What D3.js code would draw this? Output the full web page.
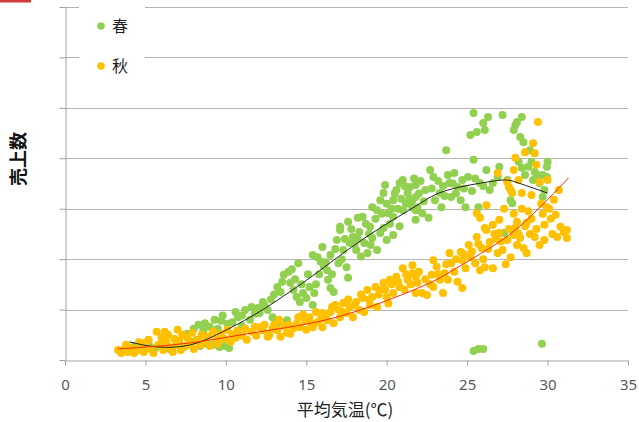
<!DOCTYPE html>
<meta charset="utf-8">
<style>
body { margin: 0; background: #fff; }
svg { display: block; font-family: "Noto Sans CJK JP", "Noto Sans", sans-serif; }
.grid line { stroke: #b4b4b4; stroke-width: 1; }
.axis path, .axis line { stroke: #a0a0a0; }
.axis text { fill: #595959; font-size: 15px; font-family: "Noto Sans", sans-serif; }
</style>
<svg width="639" height="422"></svg>
<script src="https://cdn.jsdelivr.net/npm/d3@7"></script>
<script>

// 春 (spring) points: [平均気温, 売上数]
var springPoints = [
  [4.3,28],[4.8,22],[5.2,32],[5.6,24],[6.0,30],[6.5,22],[7.0,34],[7.4,26],[7.9,36],[8.4,28],[8.8,32],[9.2,30],[9.6,26],[9.9,28],[10.2,24],
  [7.6,52],[8.0,62],[8.3,70],[8.6,58],[8.7,73],[9.0,66],[9.3,80],[9.5,62],[9.8,88],[10.1,72],[10.4,75],[10.75,85],[11.0,68],[11.2,99],[11.5,80],
  [11.8,92],[12.0,103],[12.1,93],[12.3,115],[12.6,99],[12.9,85],[13.2,73],[13.8,79],
  [13.2,145],[13.4,135],[13.6,169],[13.9,175],[14.0,153],[14.2,139],[14.4,125],[14.5,192],[14.6,115],[14.8,133],[15.0,123],[15.2,145],
  [15.4,109],[15.4,208],[15.5,133],[15.7,204],[16.0,224],[16.2,194],[16.3,178],[16.35,159],[16.5,143],[16.7,135],[16.5,208],[16.9,238],
  [17.0,192],[17.1,258],[17.3,218],[17.5,184],[17.6,163],[17.7,232],[17.9,244],[18.1,218],[18.3,254],[18.6,232],[18.8,212],[19.1,242],
  [19.4,218],[19.6,252],[20.0,238],[20.4,248],[14.3,160],[15.8,170],[16.1,185],[17.2,200],[18.0,230],[18.4,205],[19.0,228],[19.8,262],
  [20.2,270],[20.8,265],
  [17.1,264],[17.6,274],[18.2,282],[18.5,284],[18.96,264],[19.1,303],[19.4,297],[19.6,317],[19.8,331],[19.9,347],[20.1,291],[20.4,317],
  [20.6,337],[20.8,351],[21.0,357],[21.3,331],[21.45,343],[21.6,317],[21.6,303],[21.8,278],[20.4,284],[21.0,297],[20.9,320],[21.2,310],[20.3,300],
  [21.8,347],[21.8,323],[21.9,303],[22.2,291],[22.6,282],[22.4,337],[22.7,377],[22.9,363],[23.0,317],[23.3,331],[23.4,303],[23.7,416],
  [23.8,367],[23.9,351],[24.0,323],[24.2,371],[24.4,343],[24.6,317],[24.7,357],[24.9,303],[25.05,363],[25.2,446],[25.4,490],[25.4,397],
  [25.6,452],[25.7,303],[25.8,351],[26.0,470],[26.1,456],[26.2,377],[26.3,482],[26.4,337],[26.6,351],[26.9,363],[27.0,383],[27.2,486],
  [27.5,357],[27.7,317],[27.8,311],[27.9,456],[28.0,466],[28.1,472],[28.2,393],[28.4,482],[28.3,442],[28.4,381],[28.5,432],[28.6,367],
  [28.9,416],[28.8,383],[29.0,393],[29.1,357],[29.2,373],[29.4,367],[29.5,351],[29.7,367],[29.96,363],[30.0,393],[29.96,383],[29.8,337],
  [29.7,323],[21.8,297],[27.3,252],[22.1,355],[23.5,345],[24.3,330],[25.3,335],
  [13.0,130],[13.5,155],[14.1,180],[14.7,150],[15.1,170],[15.6,150],[15.9,195],[16.6,170],[16.8,220],[17.4,240],[17.8,260],[18.2,240],
  [18.7,270],[18.9,250],[19.3,280],[19.7,290],[20.0,310],[20.5,330],[20.7,300],[21.1,345],[21.4,320],[21.7,360],[22.0,330],[22.3,315],
  [22.8,340],[23.2,355],[23.6,325],[24.1,350],[24.8,340],[25.5,360],[26.0,345],[11.0,88],[11.6,105],[12.4,108],[10.6,95],[9.7,78],[12.8,120],
  [25.4,18],[25.7,22],[26.0,22],[29.65,32]
];

// 秋 (autumn) points
var autumnPoints = [
  [3.3,20],[3.5,14],[3.7,22],[3.9,16],[4.1,24],[4.3,14],[4.5,20],[4.7,28],[4.9,16],[5.0,34],[5.2,40],[5.3,22],[5.5,14],[5.7,56],[5.8,30],
  [6.0,44],[6.1,20],[6.3,36],[6.4,50],[6.5,26],[6.7,16],[6.8,42],[6.9,30],[7.1,38],[7.2,20],[7.3,50],[7.5,28],[7.6,44],[7.8,34],[7.9,54],
  [8.0,22],[8.2,40],[8.4,30],[8.5,50],[8.7,38],[8.9,46],[9.0,28],[9.2,56],[9.4,40],[9.5,32],[9.7,52],[9.9,42],[10.1,60],[10.3,36],[10.4,50],
  [10.6,44],[10.7,58],[11.0,48],[11.2,62],[11.3,40],[11.6,56],[11.8,66],[11.9,48],[6.2,56],[7.0,60],[4.6,35],[3.8,30],
  [12.1,65],[12.3,59],[12.6,46],[12.7,50],[13.2,59],[13.4,46],[13.8,54],[14.2,63],[14.5,85],[14.6,65],[14.9,79],[15.2,85],[15.4,65],
  [15.7,75],[16.0,93],[16.0,65],[16.3,79],[16.5,95],[16.7,73],[16.8,109],[17.1,85],[17.3,113],[17.5,93],[17.7,105],[17.9,85],[18.1,115],
  [18.3,99],[18.5,123],[18.8,139],[18.96,109],[19.1,125],[19.4,105],[19.6,139],[19.8,153],[20.0,125],[20.2,159],[20.4,133],[20.6,165],
  [20.8,145],[21.0,182],[21.3,159],[21.6,172],[21.6,188],[21.8,133],[13.0,70],[13.6,68],[14.0,52],[15.0,60],[15.9,82],[17.0,100],
  [18.6,95],[19.3,145],[20.1,112],[21.1,140],
  [12.4,70],[12.9,62],[13.3,80],[13.9,70],[14.4,72],[14.8,90],[15.3,72],[15.6,95],[16.2,88],[16.6,105],[17.2,96],[17.6,120],[18.0,108],
  [18.4,130],[18.9,120],[19.5,130],[19.9,140],[20.3,150],[20.7,155],[21.2,170],[21.5,150],[22.0,175],[22.4,160],[22.7,150],[23.2,170],
  [23.7,190],[24.3,200],[24.8,210],[25.3,215],[25.7,230],[26.3,220],[26.7,250],[27.1,235],[27.6,260],[28.2,250],[28.6,265],[29.0,280],
  [29.3,260],[29.7,290],[30.1,300],[28.4,300],[27.9,290],
  [21.8,165],[21.9,153],[22.2,133],[22.5,129],[22.8,169],[22.9,145],[22.9,198],[23.3,159],[23.5,133],[23.6,172],[23.8,159],[23.9,212],
  [24.0,192],[24.4,155],[24.6,214],[24.7,198],[24.7,143],[24.9,182],[25.1,228],[25.2,204],[25.5,192],[25.6,244],[25.8,178],[25.9,222],
  [26.1,184],[26.2,258],[26.4,234],[26.6,182],[26.9,212],[27.0,252],[27.2,218],[27.5,238],[27.7,204],[27.9,248],[28.1,228],[28.3,242],
  [28.5,222],[28.7,212],[29.2,244],[29.5,228],[31.0,254],[31.2,242],[23.1,185],[24.2,175],[26.0,200],[26.8,240],[27.4,190],[28.0,262],
  [28.9,250],[29.8,238],[30.3,250],[30.6,244],
  [25.6,291],[25.8,282],[26.2,307],[26.6,268],[26.9,371],[27.0,278],[27.5,353],[27.6,343],[27.7,337],[27.8,331],[27.9,377],[28.0,401],
  [28.1,274],[28.2,357],[28.4,331],[28.6,412],[28.7,272],[29.0,327],[29.1,430],[29.2,410],[29.3,387],[29.4,472],[29.5,353],[29.8,268],
  [29.96,303],[30.0,357],[30.5,288],[30.7,337],[30.8,264],[31.2,258],[26.1,262],[28.8,295],[29.6,310],[30.2,280],[30.4,318],[27.3,300]
];

// trend lines
var springTrend = [[4,36],[5.7,26],[7.8,30],[9.8,56],[12.1,96],[15,158],[17,205],[19.4,258],[21.9,307],[23.8,337],[26.7,355],[28,353],[30,331]];
var autumnTrend = [[3.3,22],[7.8,34],[12.1,56],[17,86],[21.9,142],[23.8,172],[25.9,212],[28,258],[30,318],[31.3,361]];

var xTicks = [0, 5, 10, 15, 20, 25, 30, 35];
var yTicks = [0, 100, 200, 300, 400, 500, 600, 700];
var seriesNames = ["春", "秋"];
var seriesColors = ["#92d050", "#ffc000"];

var svg = d3.select("svg");

var x = d3.scaleLinear().domain([0, 35]).range([65, 628]);
var y = d3.scaleLinear().domain([0, 700]).range([360, 7]);

// red mark top-left
svg.append("rect")
    .attr("x", 0).attr("y", 0)
    .attr("width", 31).attr("height", 2.5)
    .attr("fill", "#d23c3c");

// gridlines
svg.append("g")
    .attr("class", "grid")
  .selectAll("line")
  .data(yTicks.slice(1))
  .enter().append("line")
    .attr("x1", x(0)).attr("x2", x(35))
    .attr("y1", function(d) { return Math.round(y(d)) + 0.5; })
    .attr("y2", function(d) { return Math.round(y(d)) + 0.5; });

// legend box hides part of grid
svg.append("rect")
    .attr("x", 79).attr("y", 0)
    .attr("width", 66).attr("height", 90)
    .attr("fill", "#fff");

var legend = svg.append("g")
  .selectAll("g")
  .data(seriesNames)
  .enter().append("g")
    .attr("transform", function(d, i) { return "translate(101," + (26 + i * 40) + ")"; });

legend.append("circle")
    .attr("r", 3.8)
    .attr("fill", function(d, i) { return seriesColors[i]; });

legend.append("text")
    .attr("x", 11)
    .attr("dy", "0.36em")
    .attr("font-size", 16)
    .attr("fill", "#222")
    .text(function(d) { return d; });

// axes
svg.append("g")
    .attr("class", "axis")
    .attr("transform", "translate(0,360.5)")
    .call(d3.axisBottom(x).tickValues(xTicks).tickSize(5).tickPadding(14).tickSizeOuter(0));

svg.append("g")
    .attr("class", "axis")
    .attr("transform", "translate(65.5,0)")
    .call(d3.axisLeft(y).tickValues(yTicks).tickSize(6).tickSizeOuter(0).tickFormat(""));

// points: spring first, autumn on top
svg.append("g")
  .selectAll("circle")
  .data(springPoints)
  .enter().append("circle")
    .attr("cx", function(d) { return x(d[0]); })
    .attr("cy", function(d) { return y(d[1]); })
    .attr("r", 4)
    .attr("fill", seriesColors[0]);

svg.append("g")
  .selectAll("circle")
  .data(autumnPoints)
  .enter().append("circle")
    .attr("cx", function(d) { return x(d[0]); })
    .attr("cy", function(d) { return y(d[1]); })
    .attr("r", 4)
    .attr("fill", seriesColors[1]);

var line = d3.line()
    .x(function(d) { return x(d[0]); })
    .y(function(d) { return y(d[1]); })
    .curve(d3.curveNatural);

svg.append("path")
    .datum(springTrend)
    .attr("d", line)
    .attr("fill", "none")
    .attr("stroke", "#222")
    .attr("stroke-width", 1);

svg.append("path")
    .datum(autumnTrend)
    .attr("d", line)
    .attr("fill", "none")
    .attr("stroke", "#ff2a00")
    .attr("stroke-width", 1);

// titles
svg.append("text")
    .attr("transform", "translate(25,159) rotate(-90)")
    .attr("text-anchor", "middle")
    .attr("font-size", 18)
    .attr("font-weight", "bold")
    .attr("fill", "#111")
    .text("売上数");

svg.append("text")
    .attr("x", 345)
    .attr("y", 416)
    .attr("text-anchor", "middle")
    .attr("font-size", 17)
    .attr("fill", "#222")
    .text("平均気温(℃)");

</script>
